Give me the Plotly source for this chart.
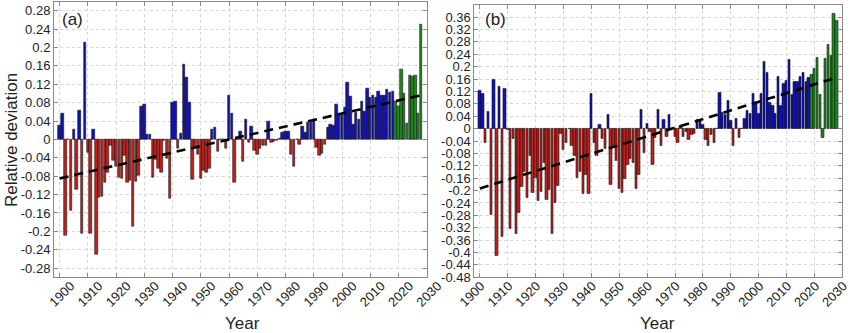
import plotly.graph_objects as go

# ---------------------------------------------------------------- data
years = list(range(1900, 2029))

# (a) relative deviation, 1900-2028
dev_a = [
    0.031, 0.056, -0.208, 0.000, -0.155, 0.022, -0.110, 0.063, -0.204, 0.210,    # 1900s
    -0.028, -0.204, 0.022, -0.250, -0.126, -0.125, -0.093, -0.072, -0.014, -0.046,  # 1910s
    -0.058, -0.083, -0.084, -0.034, -0.094, -0.090, -0.190, -0.092, -0.078, 0.071,  # 1920s
    0.077, 0.011, 0.011, -0.082, -0.044, -0.064, -0.072, -0.002, -0.042, -0.128,    # 1930s
    0.081, 0.082, -0.019, 0.012, 0.163, 0.134, 0.081, -0.087, -0.020, -0.032,       # 1940s
    -0.086, -0.068, -0.072, -0.063, 0.021, 0.026, -0.026, 0.000, 0.000, -0.019,     # 1950s
    0.096, 0.056, -0.094, 0.000, 0.018, -0.047, 0.043, -0.007, 0.028, -0.025,       # 1960s
    -0.033, -0.020, -0.013, -0.013, 0.038, -0.007, -0.005, -0.003, 0.002, 0.015,    # 1970s
    0.017, 0.017, -0.032, -0.060, 0.000, -0.010, 0.027, 0.015, 0.037, 0.036,        # 1980s
    0.043, -0.017, -0.035, -0.030, -0.010, 0.025, 0.033, 0.030, 0.075, 0.051,       # 1990s
    0.055, 0.069, 0.124, 0.093, 0.032, 0.058, 0.043, 0.083, 0.061, 0.110,           # 2000s
    0.091, 0.096, 0.092, 0.105, 0.096, 0.096, 0.108, 0.103, 0.104, 0.083,           # 2010s
    0.072, 0.151, 0.100, 0.035, 0.138, 0.136, 0.139, 0.056, 0.250,                  # 2020s
]

# (b) relative deviation, 1900-2028
dev_b = [
    0.123, 0.114, -0.047, 0.055, -0.278, 0.158, -0.410, 0.134, -0.350, 0.128,      # 1900s
    -0.005, -0.324, -0.032, -0.340, -0.272, -0.188, -0.140, -0.223, -0.088, -0.207,  # 1910s
    -0.160, -0.232, -0.205, -0.110, -0.229, -0.196, -0.339, -0.240, -0.183, -0.015,  # 1920s
    -0.067, -0.047, 0.000, -0.055, -0.086, -0.158, -0.140, -0.210, -0.148, -0.210,   # 1930s
    0.114, -0.047, -0.088, 0.012, -0.032, -0.065, 0.045, -0.180, -0.063, -0.105,     # 1940s
    -0.195, -0.208, -0.163, -0.115, -0.098, -0.110, -0.195, -0.148, 0.061, -0.077,   # 1950s
    0.015, -0.010, -0.115, -0.030, 0.061, -0.056, 0.029, -0.025, 0.044, 0.000,       # 1960s
    -0.025, -0.046, 0.008, -0.025, -0.010, -0.035, -0.020, -0.017, 0.030, 0.030,     # 1970s
    0.013, -0.035, -0.055, -0.020, -0.045, 0.000, 0.115, 0.052, 0.044, 0.090,        # 1980s
    0.025, -0.055, 0.032, -0.030, 0.000, 0.032, 0.058, 0.047, 0.113, 0.085,          # 1990s
    0.047, 0.114, 0.217, 0.182, 0.085, 0.074, 0.047, 0.168, 0.074, 0.145,            # 2000s
    0.155, 0.222, 0.110, 0.153, 0.153, 0.168, 0.180, 0.150, 0.164, 0.174,            # 2010s
    0.193, 0.229, 0.110, -0.030, 0.225, 0.271, 0.235, 0.370, 0.347,                  # 2020s
]

last_observed = 2018          # later years are shown as projections (green)

# linear trend end points
trend_years = [1900, 2028]
trend_a = [-0.085, 0.096]
trend_b = [-0.193, 0.165]

x_ticks = [1900, 1910, 1920, 1930, 1940, 1950, 1960, 1970, 1980, 1990, 2000, 2010, 2020, 2030]
y_ticks_a = [-0.28, -0.24, -0.2, -0.16, -0.12, -0.08, -0.04, 0, 0.04, 0.08, 0.12, 0.16, 0.2, 0.24, 0.28]
y_ticks_b = [-0.48, -0.44, -0.4, -0.36, -0.32, -0.28, -0.24, -0.2, -0.16, -0.12, -0.08, -0.04,
             0, 0.04, 0.08, 0.12, 0.16, 0.2, 0.24, 0.28, 0.32, 0.36, 0.4]

# ---------------------------------------------------------------- style
W, H = 850, 333
FONT = "Liberation Sans, Arial, sans-serif"
RED, BLUE, GREEN = "#c4201c", "#1212b8", "#1f8a1f"
EDGE = "#141414"
FRAME = "#8a8a8a"
GRID = "#d6d6d6"
TEXT = "#222222"


def px_x(p):
    return p / W


def px_y(p):
    return 1 - p / H


def label(text, x, y, size=17, angle=0):
    return dict(text=text, x=px_x(x), y=px_y(y), xref="paper", yref="paper",
                xanchor="center", yanchor="middle", textangle=angle,
                showarrow=False, font=dict(family=FONT, size=size, color=TEXT))


def add_panel(fig, values, trend, xa, ya):
    groups = [
        (RED, [(yr, v) for yr, v in zip(years, values) if yr <= last_observed and v < 0]),
        (BLUE, [(yr, v) for yr, v in zip(years, values) if yr <= last_observed and v >= 0]),
        (GREEN, [(yr, v) for yr, v in zip(years, values) if yr > last_observed]),
    ]
    for color, pts in groups:
        fig.add_trace(go.Bar(
            x=[p[0] for p in pts], y=[p[1] for p in pts],
            width=0.86, marker=dict(color=color, line=dict(color=EDGE, width=0.6)),
            xaxis=xa, yaxis=ya, showlegend=False,
        ))
    fig.add_trace(go.Scatter(
        x=trend_years, y=trend, mode="lines",
        line=dict(color="black", width=2.6, dash="9px,6px"),
        xaxis=xa, yaxis=ya, showlegend=False,
    ))


fig = go.Figure()
add_panel(fig, dev_a, trend_a, "x", "y")
add_panel(fig, dev_b, trend_b, "x2", "y2")

tick_font = dict(family=FONT, size=13, color=TEXT)

common_x = dict(
    range=[1898, 2030], tickvals=x_ticks, ticktext=[str(t) for t in x_ticks],
    tickangle=-45, ticks="inside", ticklen=4, tickcolor=FRAME,
    showline=True, linecolor=FRAME, linewidth=1, mirror="allticks",
    showgrid=True, gridcolor=GRID, griddash="dot", gridwidth=1,
    zeroline=False, tickfont=tick_font, automargin=False,
    ticklabelstandoff=-5, ticklabeloverflow="allow",
)
common_y = dict(
    ticks="inside", ticklen=4, tickcolor=FRAME,
    showline=True, linecolor=FRAME, linewidth=1, mirror="allticks",
    showgrid=True, gridcolor=GRID, griddash="dot", gridwidth=1,
    zeroline=False, tickfont=tick_font, automargin=False,
)

fig.update_layout(
    width=W, height=H,
    margin=dict(l=0, r=0, t=0, b=0, autoexpand=False),
    paper_bgcolor="white", plot_bgcolor="white",
    barmode="overlay", bargap=0,
    font=dict(family=FONT, color=TEXT),
    xaxis=dict(common_x, domain=[px_x(54), px_x(426.7)], anchor="y",
               ticklabelshift=11),
    yaxis=dict(common_y, domain=[px_y(277.3), px_y(1.5)], anchor="x",
               range=[-0.3, 0.3], tickvals=y_ticks_a,
               ticktext=[f"{v:g}" for v in y_ticks_a]),
    xaxis2=dict(common_x, domain=[px_x(474.3), px_x(842.3)], anchor="y2",
                ticklabelshift=1),
    yaxis2=dict(common_y, domain=[px_y(277.3), px_y(4.7)], anchor="x2",
                range=[-0.48, 0.4], tickvals=y_ticks_b,
                ticktext=[f"{v:g}" for v in y_ticks_b]),
    annotations=[
        label("(a)", 72, 19),
        label("(b)", 495, 20),
        label("Year", 242, 323),
        label("Year", 657, 323),
        label("Relative deviation", 11, 140, angle=-90),
    ],
)

fig.write_html("out.html")
